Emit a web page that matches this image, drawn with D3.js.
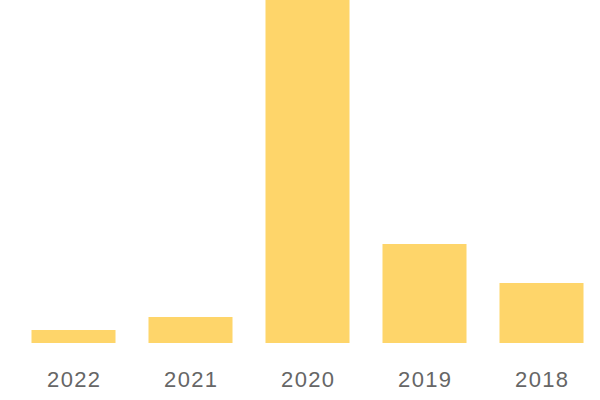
<!DOCTYPE html>
<html>
<head>
<meta charset="utf-8">
<script src="https://cdn.jsdelivr.net/npm/d3@7"></script>
<style>
  body { margin: 0; background: #fff; }
  .label { font-family: "Liberation Sans", Arial, sans-serif; font-size: 22px; letter-spacing: 1.3px; fill: #666; }
</style>
</head>
<body>
<div id="chart"></div>
<script>
// categories and values (relative units)
var years = ["2022", "2021", "2020", "2019", "2018"];
var values = [13, 26, 343, 99, 60];

var width = 600, height = 400, baseY = 343;

var svg = d3.select("#chart").append("svg")
    .attr("width", width)
    .attr("height", height);

var x = d3.scaleBand()
    .domain(years)
    .range([15, 600])
    .paddingInner(0.282)
    .paddingOuter(0.141);

var y = d3.scaleLinear()
    .domain([0, d3.max(values)])
    .range([baseY, 0]);

// bars
svg.append("g").selectAll("rect")
    .data(years)
    .enter().append("rect")
    .attr("x", function (d) { return x(d); })
    .attr("y", function (d, i) { return y(values[i]); })
    .attr("width", x.bandwidth())
    .attr("height", function (d, i) { return baseY - y(values[i]); })
    .attr("fill", "#FED56A");

// year labels
svg.append("g").selectAll("text")
    .data(years)
    .enter().append("text")
    .attr("class", "label")
    .attr("x", function (d) { return x(d) + x.bandwidth() / 2 + 0.7; })
    .attr("y", 387)
    .attr("text-anchor", "middle")
    .text(function (d) { return d; });
</script>
</body>
</html>
